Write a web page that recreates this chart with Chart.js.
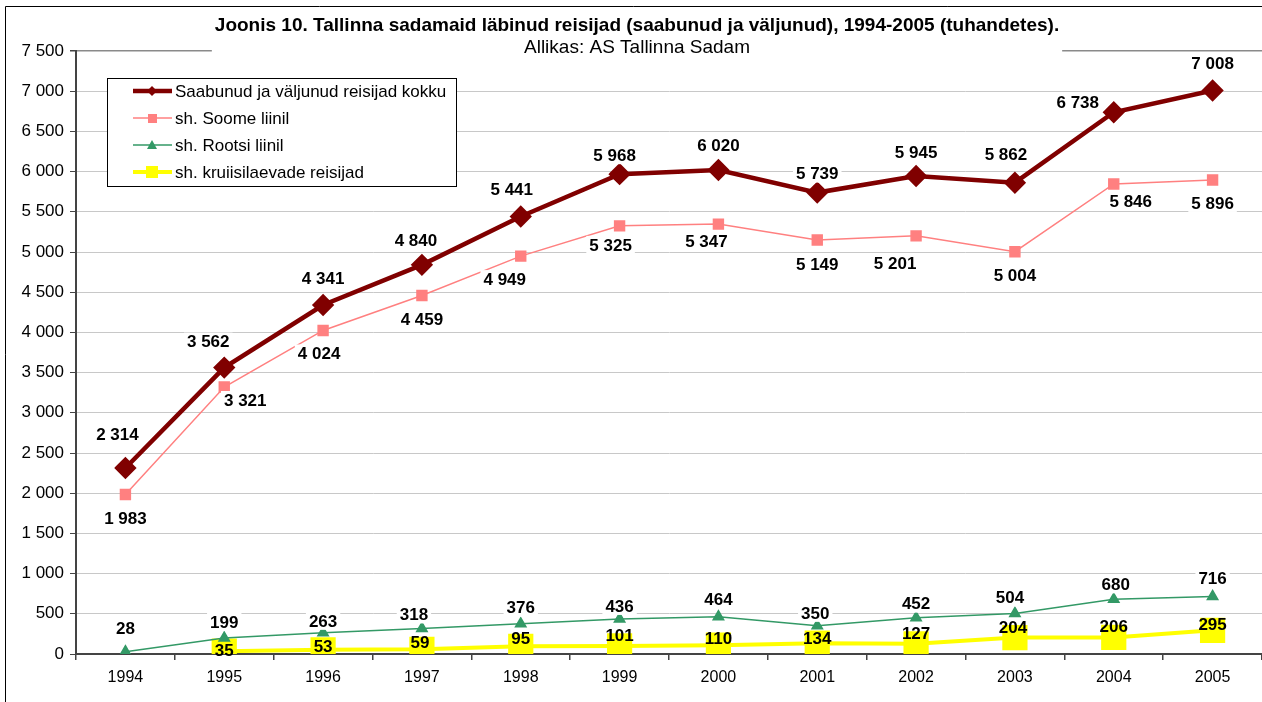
<!DOCTYPE html>
<html>
<head>
<meta charset="utf-8">
<script src="https://cdn.jsdelivr.net/npm/chart.js@4/dist/chart.umd.min.js"></script>
<style>
  html, body { margin: 0; padding: 0; background: #fff; }
  #wrap { width: 1262px; height: 702px; }
</style>
</head>
<body>
<div id="wrap"><canvas id="chart" width="1262" height="702"></canvas></div>
<script>
// Data
const years = ['1994', '1995', '1996', '1997', '1998', '1999', '2000', '2001', '2002', '2003', '2004', '2005'];
const totalPassengers = [2314, 3562, 4341, 4840, 5441, 5968, 6020, 5739, 5945, 5862, 6738, 7008];
const finlandLine = [1983, 3321, 4024, 4459, 4949, 5325, 5347, 5149, 5201, 5004, 5846, 5896];
const swedenLine = [28, 199, 263, 318, 376, 436, 464, 350, 452, 504, 680, 716];
const cruisePassengers = [null, 35, 53, 59, 95, 101, 110, 134, 127, 204, 206, 295];

const seriesNames = ['Saabunud ja väljunud reisijad kokku', 'sh. Soome liinil', 'sh. Rootsi liinil', 'sh. kruiisilaevade reisijad'];
const chartTitle = 'Joonis 10. Tallinna sadamaid läbinud reisijad (saabunud ja väljunud), 1994-2005 (tuhandetes).';
const chartSubtitle = 'Allikas: AS Tallinna Sadam';

// label offsets from each point (dx, dy in px)
const totalOffsets = [[-8,-34],[-16,-26],[0,-27],[-6,-25],[-9,-27],[-5,-19],[0,-25],[0,-19],[0,-24],[-9,-28],[-36,-10],[0,-27]];
const finlandOffsets = [[0,24],[21,13],[-4,23],[0,24],[-16,23],[-9,19],[-12,17],[0,24],[-21,27],[0,24],[17,17],[0,23]];
const swedenOffsets = [[0,-23],[0,-16],[0,-12],[-8,-14],[0,-16],[0,-13],[0,-17],[-2,-13],[0,-14],[-5,-16],[2,-15],[0,-18]];
const cruiseOffsets = [[0,0],[0,-1],[0,-3],[-2,-7],[0,-8],[0,-11],[0,-7],[0,-5],[0,-10],[-2,-10],[0,-11],[0,-6]];

const FONT = '"Liberation Sans", Arial, sans-serif';

function fmt(v) {
    return String(v).replace(/\B(?=(\d{3})+(?!\d))/g, ' ');
}

// Data labels
const labelPlugin = {
    id: 'pointLabels',
    afterDatasetsDraw(chart) {
        const ctx = chart.ctx;
        ctx.save();
        ctx.font = 'bold 17px ' + FONT;
        ctx.textAlign = 'center';
        ctx.textBaseline = 'middle';
        chart.data.datasets.forEach((ds, i) => {
            const meta = chart.getDatasetMeta(i);
            meta.data.forEach((pt, j) => {
                const v = ds.data[j];
                if (v === null) return;
                const off = ds.labelOffsets[j];
                const x = pt.x + off[0];
                const y = pt.y + off[1];
                const txt = fmt(v);
                if (ds.labelBg) {
                    const w = ctx.measureText(txt).width;
                    ctx.fillStyle = '#fff';
                    ctx.fillRect(x - w / 2 - 3, y - 9, w + 6, 18);
                }
                ctx.fillStyle = '#000';
                ctx.fillText(txt, x, y + 1);
            });
        });
        ctx.restore();
    }
};

// Title, legend box and frame
const decorPlugin = {
    id: 'decor',
    afterDraw(chart) {
        const ctx = chart.ctx;
        ctx.save();

        // frame
        ctx.strokeStyle = '#000';
        ctx.lineWidth = 1;
        ctx.beginPath();
        ctx.moveTo(5.5, 702);
        ctx.lineTo(5.5, 6.5);
        ctx.lineTo(1262, 6.5);
        ctx.stroke();

        // title
        ctx.font = 'bold 19px ' + FONT;
        const tw = ctx.measureText(chartTitle).width;
        ctx.fillStyle = '#fff';
        ctx.fillRect(637 - tw / 2 - 3, 12, tw + 6, 48);
        ctx.fillStyle = '#000';
        ctx.textAlign = 'center';
        ctx.textBaseline = 'middle';
        ctx.fillText(chartTitle, 637, 26);
        ctx.font = '19px ' + FONT;
        ctx.fillText(chartSubtitle, 637, 48);

        // legend
        ctx.fillStyle = '#fff';
        ctx.fillRect(107, 78, 349, 108);
        ctx.strokeStyle = '#000';
        ctx.strokeRect(107.5, 78.5, 349, 108);
        const rows = [91, 118, 145, 172];
        chart.data.datasets.forEach((ds, i) => {
            const y = rows[i];
            ctx.strokeStyle = ds.borderColor;
            ctx.lineWidth = ds.borderWidth;
            ctx.beginPath();
            ctx.moveTo(133, y);
            ctx.lineTo(172, y);
            ctx.stroke();
            ctx.fillStyle = ds.borderColor;
            ctx.beginPath();
            if (ds.pointStyle === 'rectRot') {
                ctx.moveTo(152, y - 5); ctx.lineTo(157, y); ctx.lineTo(152, y + 5); ctx.lineTo(147, y);
            } else if (ds.pointStyle === 'triangle') {
                ctx.moveTo(152, y - 5); ctx.lineTo(157, y + 4); ctx.lineTo(147, y + 4);
            } else if (i === 3) {
                ctx.rect(146, y - 6, 12, 12);
            } else {
                ctx.rect(148, y - 4, 9, 9);
            }
            ctx.closePath();
            ctx.fill();
            ctx.fillStyle = '#000';
            ctx.textAlign = 'left';
            ctx.font = '17px ' + FONT;
            ctx.fillText(ds.label, 175, y + 1);
        });

        ctx.restore();
    }
};

const ctx = document.getElementById('chart').getContext('2d');

const config = {
    type: 'line',
    data: {
        labels: years,
        datasets: [{
            label: seriesNames[0],
            data: totalPassengers,
            borderColor: '#800000',
            backgroundColor: '#800000',
            borderWidth: 4.5,
            pointStyle: 'rectRot',
            pointRadius: 8,
            labelOffsets: totalOffsets,
            labelBg: true
        }, {
            label: seriesNames[1],
            data: finlandLine,
            borderColor: '#ff8080',
            backgroundColor: '#ff8080',
            borderWidth: 1.5,
            pointStyle: 'rect',
            pointRadius: 7,
            labelOffsets: finlandOffsets,
            labelBg: true
        }, {
            label: seriesNames[2],
            data: swedenLine,
            borderColor: '#339966',
            backgroundColor: '#339966',
            borderWidth: 1.5,
            pointStyle: 'triangle',
            pointRadius: 6,
            labelOffsets: swedenOffsets,
            labelBg: true
        }, {
            label: seriesNames[3],
            data: cruisePassengers,
            borderColor: '#ffff00',
            backgroundColor: '#ffff00',
            borderWidth: 4,
            pointStyle: 'rect',
            pointRadius: 15,
            labelOffsets: cruiseOffsets,
            labelBg: false
        }]
    },
    options: {
        responsive: false,
        animation: false,
        devicePixelRatio: 1,
        layout: {
            autoPadding: false,
            padding: { top: 51, left: 10, right: -3, bottom: 10 }
        },
        elements: {
            line: { tension: 0 },
            point: { borderWidth: 0, hoverRadius: 8 }
        },
        plugins: {
            legend: { display: false },
            title: { display: false },
            tooltip: { enabled: false }
        },
        scales: {
            x: {
                offset: true,
                afterFit(scale) {
                    scale.height = 38;
                    scale.paddingLeft = 0;
                    scale.paddingRight = 0;
                },
                grid: {
                    drawOnChartArea: false,
                    drawTicks: true,
                    tickLength: 6,
                    tickColor: '#444',
                    lineWidth: 1.5,
                    offset: true
                },
                border: { display: true, color: '#444', width: 2 },
                ticks: {
                    color: '#000',
                    padding: 8,
                    font: { family: FONT, size: 16 },
                    maxRotation: 0
                }
            },
            y: {
                min: 0,
                max: 7500,
                afterFit(scale) { scale.width = 66; },
                grid: {
                    // top line is the plot frame, a bit darker
                    color: (c) => c.tick && c.tick.value === 7500 ? '#8a8a8a' : '#c8c8c8',
                    lineWidth: (c) => c.tick && c.tick.value === 7500 ? 1.5 : 1,
                    tickLength: 6,
                    tickColor: '#444'
                },
                border: { display: true, color: '#444', width: 2 },
                ticks: {
                    stepSize: 500,
                    color: '#000',
                    padding: 6,
                    font: { family: FONT, size: 17 },
                    callback: function(value) {
                        return fmt(value);
                    }
                }
            }
        }
    },
    plugins: [labelPlugin, decorPlugin]
};

const passengerChart = new Chart(ctx, config);
</script>
</body>
</html>
